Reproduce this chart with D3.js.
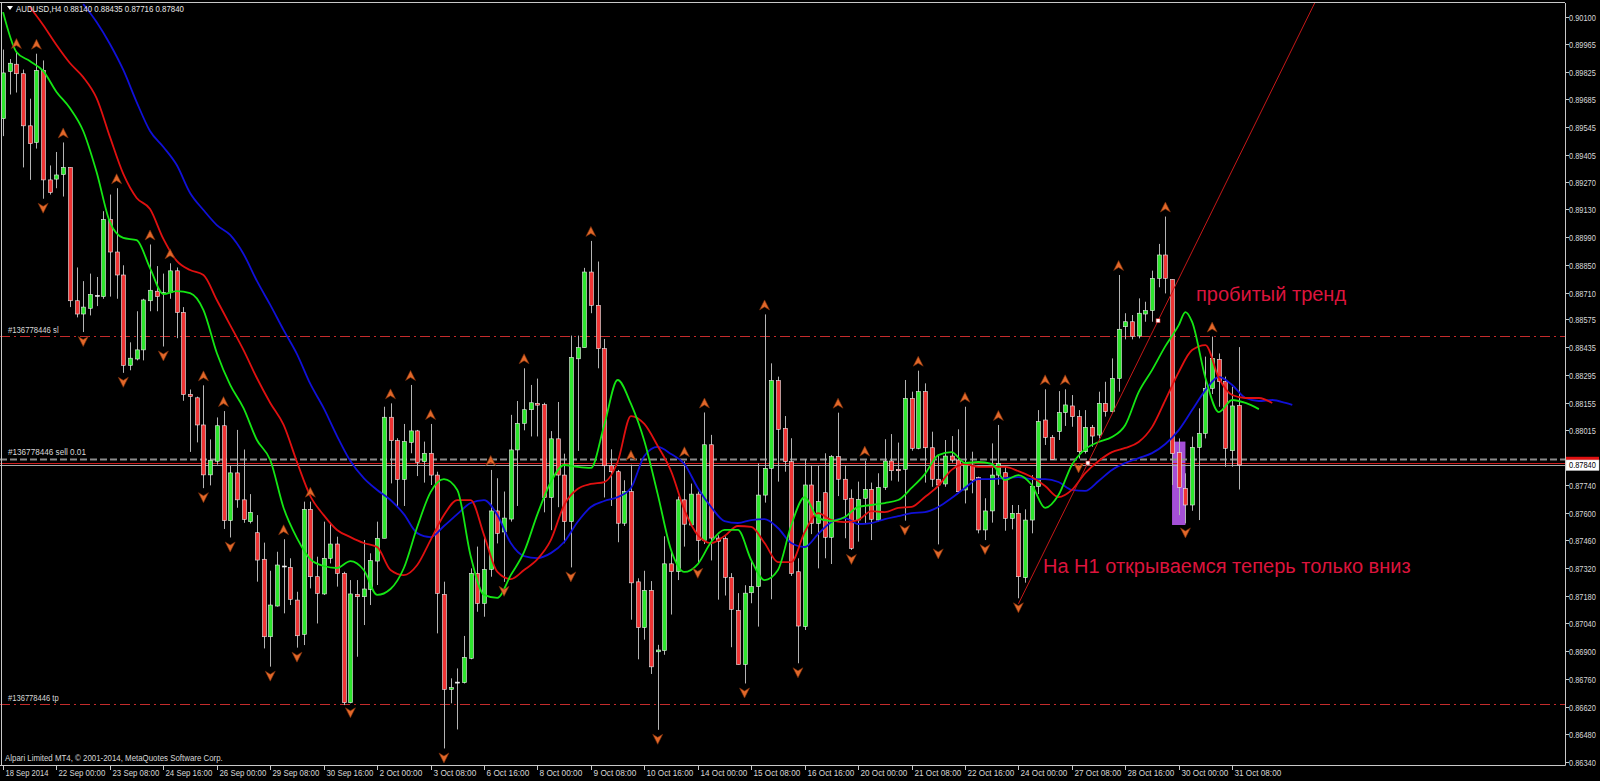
<!DOCTYPE html>
<meta charset="utf-8">
<style>
body { margin: 0; background: #000; }
svg { display: block; background: #000; }
.txt { font-family: "Liberation Sans", Arial, sans-serif; font-size: 9.5px; fill: #d8d8d8; }
.note { font-family: "Liberation Sans", Arial, sans-serif; font-size: 20px; fill: #dc143c; }
</style>
<svg width="1600" height="781"></svg>
<script src="https://d3js.org/d3.v7.min.js"></script>
<script>

// AUDUSD H4 candles, 18 Sep 16:00 .. 31 Oct 2014
var openP = [.89588,.89826,.89863,.89815,.89552,.89468,.89832,.89279,.89283,.89306,
  .89342,.88669,.88602,.88631,.88696,.88690,.89079,.88915,.88799,.88343,
  .88375,.88421,.88669,.88717,.88705,.88711,.88820,.88610,.88196,.88179,
  .88042,.87790,.87859,.88038,.87559,.87800,.87664,.87554,.87498,.87364,
  .86973,.87128,.87330,.87323,.87158,.86985,.87616,.87276,.87189,.87369,
  .87441,.87293,.86640,.87187,.87175,.87212,.87355,.87470,.88081,.87963,
  .87767,.87954,.88012,.87857,.87899,.87789,.87187,.86707,.86744,.86741,
  .86864,.87293,.87141,.87313,.87608,.87502,.87567,.87916,.88050,.88119,
  .88151,.88145,.87676,.87972,.87789,.87554,.88376,.88432,.88814,.88646,
  .88427,.87836,.87806,.87546,.87706,.87250,.87019,.87207,.86897,.86903,
  .87341,.87302,.87664,.87537,.87693,.87459,.87942,.87471,.87468,.87271,
  .87106,.86833,.87195,.87226,.87688,.87823,.88266,.88025,.87857,.87301,
  .87024,.87739,.87545,.87700,.87475,.87882,.87768,.87672,.87562,.87672,
  .87717,.87562,.87727,.87860,.87818,.87818,.88176,.87924,.88210,.87927,
  .87768,.87744,.87885,.87865,.87714,.87840,.87776,.87512,.87608,.87789,
  .87801,.87570,.87596,.87271,.87562,.87731,.88067,.87979,.88008,.88104,
  .88138,.88084,.87907,.88030,.87991,.88151,.88109,.88277,.88538,.88563,
  .88491,.88602,.88619,.88782,.88900,.88777,.87902,.87722,.87638,.87929,
  .87999,.88227,.88373,.88261,.87912,.88140];
var highP = [.89937,.89889,.89920,.89836,.89689,.89916,.89882,.89352,.89420,.89468,
  .89342,.88837,.88768,.88806,.88789,.89121,.89205,.89237,.88848,.88459,
  .88616,.88679,.88953,.88844,.88806,.88858,.88837,.88637,.88221,.88185,
  .88242,.87969,.88080,.88112,.87838,.88017,.87918,.87693,.87587,.87448,
  .87306,.87402,.87465,.87369,.87200,.87655,.87655,.87377,.87554,.87549,
  .87478,.87301,.87259,.87259,.87461,.87394,.87554,.88134,.88151,.87975,
  .88047,.88244,.88017,.87958,.88047,.87806,.87251,.86763,.86813,.86977,
  .87318,.87428,.87470,.87815,.87773,.87706,.88093,.88163,.88328,.88244,
  .88276,.88154,.88011,.88158,.87897,.88493,.88493,.88835,.88971,.88867,
  .88476,.87919,.87815,.87763,.87841,.87268,.87306,.87254,.86932,.87480,
  .87410,.87681,.87859,.87746,.87706,.88105,.87992,.87485,.87480,.87294,
  .87193,.87233,.87360,.87848,.88600,.88353,.88286,.88087,.87975,.87369,
  .87869,.87840,.87835,.87899,.87890,.88104,.87840,.87717,.87756,.87862,
  .87751,.87798,.87970,.87996,.87953,.88269,.88210,.88316,.88252,.88008,
  .87890,.87966,.87986,.88020,.88134,.87907,.87781,.87672,.87949,.88042,
  .87831,.87638,.87638,.87616,.87789,.88117,.88222,.87991,.88213,.88222,
  .88193,.88117,.88117,.88042,.88210,.88260,.88378,.88799,.88606,.88597,
  .88681,.88664,.88821,.88956,.89094,.88777,.87974,.87798,.87983,.88126,
  .88387,.88488,.88403,.88286,.88235,.88435];
var lowP = [.89500,.89710,.89720,.89342,.89279,.89437,.89184,.89205,.89237,.89195,
  .88637,.88585,.88511,.88595,.88642,.88679,.88690,.88679,.88305,.88318,
  .88368,.88368,.88616,.88616,.88438,.88679,.88480,.88164,.87906,.87954,
  .87723,.87737,.87842,.87517,.87474,.87624,.87548,.87545,.87251,.86914,
  .86822,.87125,.87091,.87133,.86918,.86931,.87217,.87040,.87184,.87343,
  .87226,.86628,.86637,.86872,.87032,.87133,.87234,.87470,.87747,.87629,
  .87633,.87899,.87784,.87751,.87739,.86990,.86409,.86637,.86505,.86737,
  .86859,.87099,.87074,.87276,.87444,.87250,.87554,.87633,.88015,.87984,
  .87984,.87601,.87511,.87627,.87445,.87323,.87911,.88432,.88606,.88328,
  .87676,.87633,.87450,.87532,.87059,.86859,.86958,.86785,.86503,.86882,
  .87085,.87259,.87428,.87532,.87341,.87441,.87358,.87160,.87181,.86920,
  .86833,.86737,.87142,.87024,.87650,.87162,.87756,.87806,.87280,.86839,
  .87007,.87491,.87318,.87369,.87340,.87683,.87470,.87411,.87453,.87545,
  .87461,.87554,.87714,.87761,.87756,.87559,.87912,.87919,.87751,.87730,
  .87439,.87730,.87852,.87697,.87646,.87697,.87495,.87461,.87549,.87740,
  .87508,.87515,.87167,.87246,.87495,.87693,.87941,.87868,.87966,.88037,
  .88033,.87873,.87898,.87932,.87974,.88084,.88104,.88210,.88474,.88474,
  .88479,.88563,.88563,.88737,.88706,.87739,.87587,.87545,.87609,.87562,
  .87974,.88198,.88134,.87831,.87831,.87716];
var closeP = [.89819,.89868,.89815,.89552,.89462,.89832,.89279,.89216,.89304,.89342,
  .88669,.88602,.88637,.88701,.88696,.89079,.88915,.88799,.88343,.88379,
  .88421,.88673,.88722,.88690,.88711,.88820,.88610,.88196,.88185,.88042,
  .87790,.87864,.88038,.87559,.87800,.87664,.87565,.87601,.87360,.86973,
  .87133,.87335,.87330,.87162,.86978,.87616,.87276,.87192,.87369,.87441,
  .87293,.86640,.87189,.87175,.87214,.87357,.87470,.88081,.87963,.87767,
  .87958,.88012,.87853,.87899,.87789,.87192,.86707,.86716,.86744,.86869,
  .87293,.87141,.87313,.87608,.87495,.87572,.87916,.88050,.88119,.88154,
  .88142,.87676,.87972,.87789,.87554,.88383,.88432,.88814,.88646,.88427,
  .87836,.87806,.87546,.87706,.87245,.87019,.87207,.86821,.86906,.87341,
  .87302,.87664,.87541,.87693,.87459,.87942,.87471,.87455,.87273,.87111,
  .86833,.87193,.87226,.87688,.87823,.88266,.88020,.87857,.87293,.87027,
  .87739,.87545,.87655,.87475,.87882,.87768,.87666,.87419,.87666,.87717,
  .87566,.87727,.87860,.87811,.87811,.88176,.87924,.88210,.87927,.87768,
  .87739,.87885,.87865,.87705,.87840,.87764,.87512,.87608,.87789,.87848,
  .87570,.87596,.87276,.87562,.87731,.88059,.87979,.87868,.88104,.88143,
  .88084,.87907,.88030,.87986,.88151,.88109,.88277,.88525,.88563,.88488,
  .88606,.88619,.88782,.88900,.88782,.87898,.87727,.87638,.87929,.87999,
  .88227,.88378,.88261,.87924,.88138,.87840];

var timeLabels = ["18 Sep 2014","22 Sep 00:00","23 Sep 08:00","24 Sep 16:00","26 Sep 00:00",
  "29 Sep 08:00","30 Sep 16:00","2 Oct 00:00","3 Oct 08:00","6 Oct 16:00","8 Oct 00:00",
  "9 Oct 08:00","10 Oct 16:00","14 Oct 00:00","15 Oct 08:00","16 Oct 16:00","20 Oct 00:00",
  "21 Oct 08:00","22 Oct 16:00","24 Oct 00:00","27 Oct 08:00","28 Oct 16:00","30 Oct 00:00",
  "31 Oct 08:00"];
var priceLabels = ["0.90100","0.89965","0.89825","0.89685","0.89545","0.89405","0.89270",
  "0.89130","0.88990","0.88850","0.88710","0.88575","0.88435","0.88295","0.88155","0.88015",
  "0.87740","0.87600","0.87460","0.87320","0.87180","0.87040","0.86900","0.86760","0.86620",
  "0.86480","0.86340"];

// Alligator lines (bar slot, price)
var lipsBar = [0,2,4,6,8,10,12,14,16,18,20,22,24,26,28,30,32,34,36,38,40,42,44,46,48,50,
  52,54,56,58,60,62,64,66,68,70,72,74,76,78,80,82,84,86,88,90,92,94,96,98,100,102,104,106,
  108,110,112,114,116,118,120,122,124,126,128,130,132,134,136,138,140,142,144,146,148,150,
  152,154,156,158,160,162,164,166,168,170,172,174,176,177,178,180,182,184,186,188];
var lipsVal = [.90126,.89925,.89879,.89829,.89723,.89642,.89526,.89319,.89066,.88986,.88975,
  .88834,.88703,.88718,.88708,.88622,.88405,.88244,.88127,.87966,.87865,.87623,.87471,.87365,
  .87330,.87320,.87355,.87310,.87184,.87214,.87320,.87527,.87703,.87769,.87714,.87381,.87184,
  .87169,.87284,.87401,.87592,.87754,.87840,.87830,.87825,.88042,.88269,.88148,.87961,.87693,
  .87411,.87300,.87340,.87451,.87512,.87512,.87360,.87259,.87310,.87537,.87678,.87572,.87557,
  .87577,.87628,.87638,.87648,.87663,.87724,.87794,.87890,.87905,.87850,.87855,.87845,.87764,
  .87789,.87739,.87623,.87688,.87840,.87920,.87956,.87981,.88042,.88208,.88319,.88440,.88546,
  .88612,.88562,.88279,.88107,.88168,.88153,.88122];
var teethBar = [4,6,8,10,12,14,16,18,20,22,24,26,28,30,32,34,36,38,40,42,44,46,48,50,52,54,
  56,58,60,62,64,66,68,70,72,74,76,78,80,82,84,86,88,90,92,94,96,98,100,102,104,106,108,110,
  112,114,116,118,120,122,124,126,128,130,132,134,136,138,140,142,144,146,148,150,152,154,
  156,158,160,162,164,166,168,170,172,174,176,178,180,182,184,186,188,190];
var teethVal = [.90152,.90061,.89960,.89869,.89798,.89692,.89496,.89309,.89188,.89132,.88981,
  .88870,.88824,.88799,.88673,.88546,.88420,.88279,.88153,.88042,.87855,.87683,.87587,.87512,
  .87476,.87446,.87426,.87310,.87284,.87335,.87461,.87587,.87663,.87663,.87486,.87300,.87264,
  .87310,.87365,.87461,.87638,.87719,.87744,.87754,.87855,.88087,.88047,.87936,.87809,.87613,
  .87486,.87446,.87481,.87532,.87527,.87446,.87350,.87350,.87501,.87597,.87562,.87552,.87562,
  .87607,.87602,.87623,.87628,.87678,.87734,.87815,.87845,.87830,.87830,.87830,.87809,.87779,
  .87734,.87678,.87714,.87799,.87860,.87905,.87926,.87956,.88031,.88168,.88309,.88420,.88445,
  .88279,.88193,.88178,.88178,.88153];
var jawBar = [12,14,16,18,20,22,24,26,28,30,32,34,36,38,40,42,44,46,48,50,52,54,56,58,60,62,
  64,66,68,70,72,74,76,78,80,82,84,86,88,90,92,94,96,98,100,102,104,106,108,110,112,114,116,
  118,120,122,124,126,128,130,132,134,136,138,140,142,144,146,148,150,152,154,156,158,160,
  162,164,166,168,170,172,174,176,178,180,182,184,186,188,190,192,193];
var jawVal = [.90167,.90076,.89965,.89834,.89672,.89526,.89445,.89354,.89213,.89127,.89051,
  .89001,.88905,.88769,.88648,.88521,.88400,.88249,.88127,.87986,.87860,.87774,.87714,.87663,
  .87592,.87496,.87476,.87532,.87592,.87648,.87663,.87587,.87446,.87380,.87370,.87395,.87451,
  .87552,.87628,.87658,.87678,.87724,.87885,.87931,.87895,.87845,.87724,.87628,.87557,.87547,
  .87562,.87567,.87522,.87446,.87426,.87491,.87552,.87572,.87542,.87547,.87567,.87582,.87597,
  .87602,.87628,.87673,.87724,.87769,.87769,.87774,.87779,.87769,.87769,.87754,.87714,.87709,
  .87759,.87815,.87850,.87875,.87900,.87946,.88016,.88117,.88218,.88284,.88244,.88178,.88163,
  .88168,.88153,.88143];

var fractalUp = [2,5,9,17,22,25,30,33,42,46,58,61,64,73,78,88,94,102,105,114,125,129,137,
  144,149,156,159,167,174,181];
var fractalDown = [6,12,18,24,30,34,40,44,52,66,75,85,98,104,111,119,127,135,140,147,152,
  161,177];

var slPrice = 0.88490, tpPrice = 0.86635, orderPrice = 0.87868, askPrice = 0.87851, bidPrice = 0.87840;
var trendBars = [152, 173], trendPrices = [0.87139, 0.88575];
var trendMarks = [[162.4, 0.87850], [172.9, 0.88568]];
var boxBars = [175, 177], boxPrices = [0.87958, 0.87537];

var svg = d3.select("svg"),
    plotR = 1565, plotT = 3, plotB = 765;

var x = d3.scaleLinear().domain([0, 185]).range([3.06, 1238.86]);
var y = d3.scaleLinear().domain([0.86324, 0.90172]).range([765.3, 3]);

svg.append("defs").append("clipPath").attr("id", "plot")
  .append("rect").attr("x", 0).attr("y", plotT).attr("width", plotR).attr("height", plotB - plotT);

var g = svg.append("g").attr("clip-path", "url(#plot)");

// rectangle object (background)
g.append("rect")
    .attr("x", x(boxBars[0])).attr("width", x(boxBars[1]) - x(boxBars[0]))
    .attr("y", y(boxPrices[0])).attr("height", y(boxPrices[1]) - y(boxPrices[0]))
    .attr("fill", "#a44fd6");

// trade levels
function hline(p, color, dash, w) {
  g.append("line").attr("x1", 0).attr("x2", plotR)
    .attr("y1", Math.round(y(p)) + 0.5).attr("y2", Math.round(y(p)) + 0.5)
    .attr("stroke", color).attr("stroke-width", w || 1)
    .attr("stroke-dasharray", dash);
}
hline(slPrice, "#c42b2b", "10,4,2,4");
hline(tpPrice, "#c42b2b", "10,4,2,4");
hline(orderPrice, "#8c8c8c", "7,3", 2);
hline(askPrice, "#d02020", null);
hline(bidPrice, "#a8a8a8", null);

var bars = d3.range(openP.length).map(function(i) {
  return {i: i, o: openP[i], h: highP[i], l: lowP[i], c: closeP[i]};
});

// wicks
g.selectAll(".wick").data(bars).enter().append("line")
    .attr("x1", function(d) { return Math.round(x(d.i)) + 0.5; })
    .attr("x2", function(d) { return Math.round(x(d.i)) + 0.5; })
    .attr("y1", function(d) { return y(d.h); })
    .attr("y2", function(d) { return y(d.l); })
    .attr("stroke", "#b4b4b4").attr("stroke-width", 1);

// bodies
g.selectAll(".body").data(bars).enter().append("rect")
    .attr("x", function(d) { return Math.round(x(d.i)) - 1.5; })
    .attr("width", 4)
    .attr("y", function(d) { return y(Math.max(d.o, d.c)); })
    .attr("height", function(d) { return Math.max(1, Math.abs(y(d.o) - y(d.c))); })
    .attr("fill", function(d) { return d.c > d.o ? "#2ee62e" : d.c < d.o ? "#f03434" : "#ffffff"; })
    .attr("stroke", "#ececec").attr("stroke-width", 0.6);

// alligator
var line = d3.line()
    .x(function(d) { return x(d[0]); })
    .y(function(d) { return y(d[1]); })
    .curve(d3.curveMonotoneX);

[[jawBar, jawVal, "#1010d8"], [teethBar, teethVal, "#e01010"], [lipsBar, lipsVal, "#14e614"]]
  .forEach(function(s) {
    g.append("path")
      .datum(s[0].map(function(b, k) { return [b, s[1][k]]; }))
      .attr("d", line).attr("fill", "none")
      .attr("stroke", s[2]).attr("stroke-width", 1.8);
  });

// trend line
var slope = (trendPrices[1] - trendPrices[0]) / (trendBars[1] - trendBars[0]);
g.append("line")
    .attr("x1", x(trendBars[0])).attr("y1", y(trendPrices[0]))
    .attr("x2", x(trendBars[0] + 60)).attr("y2", y(trendPrices[0] + 60 * slope))
    .attr("stroke", "#c41818").attr("stroke-width", 1);

g.selectAll(".tm").data(trendMarks).enter().append("rect")
    .attr("x", function(d) { return x(d[0]) - 2; })
    .attr("y", function(d) { return y(d[1]) - 2; })
    .attr("width", 4).attr("height", 4)
    .attr("fill", "#ffffff").attr("stroke", "#c41818").attr("stroke-width", 0.6);

// fractals
var arrowUp = "M0,-5.5L5,4.5L0,1.5L-5,4.5Z",
    arrowDown = "M0,5.5L5,-4.5L0,-1.5L-5,-4.5Z";
g.selectAll(".fu").data(fractalUp).enter().append("path")
    .attr("d", arrowUp)
    .attr("transform", function(i) { return "translate(" + x(i) + "," + (y(highP[i]) - 9) + ")"; })
    .attr("fill", "#e2682a").attr("stroke", "#7a2e08").attr("stroke-width", 0.6);
g.selectAll(".fd").data(fractalDown).enter().append("path")
    .attr("d", arrowDown)
    .attr("transform", function(i) { return "translate(" + x(i) + "," + (y(lowP[i]) + 9) + ")"; })
    .attr("fill", "#e2682a").attr("stroke", "#7a2e08").attr("stroke-width", 0.6);

// small texts, squeezed horizontally to the narrow terminal font
function label(sel, px, py, s, cw, fill) {
  var t = sel.append("text").attr("class", "txt").text(s).style("fill", fill || null);
  var k = s.length * cw / t.node().getComputedTextLength();
  t.attr("transform", "translate(" + px + "," + py + ") scale(" + k + ",1)");
  return t;
}

label(svg, 8, y(slPrice) - 3, "#136778446 sl", 3.9);
label(svg, 8, y(orderPrice) - 4, "#136778446 sell 0.01", 3.9);
label(svg, 8, y(tpPrice) - 3, "#136778446 tp", 3.9);

// annotations
svg.append("text").attr("class", "note").attr("x", 1196).attr("y", 301).text("пробитый тренд");
svg.append("text").attr("class", "note").attr("x", 1043).attr("y", 573).text("На Н1 открываемся теперь только вниз");

// frame and axes
var ax = svg.append("g").attr("stroke", "#c8c8c8").attr("stroke-width", 1);
ax.append("line").attr("x1", 1.5).attr("x2", 1.5).attr("y1", plotT).attr("y2", plotB);
ax.append("line").attr("x1", 0).attr("x2", plotR).attr("y1", plotT - 0.5).attr("y2", plotT - 0.5);
ax.append("line").attr("x1", plotR + 0.5).attr("x2", plotR + 0.5).attr("y1", plotT).attr("y2", plotB + 0.5);
ax.append("line").attr("x1", 0).attr("x2", plotR + 0.5).attr("y1", plotB + 0.5).attr("y2", plotB + 0.5);

priceLabels.forEach(function(s) {
  var py = Math.round(y(+s)) + 0.5;
  ax.append("line").attr("x1", plotR).attr("x2", plotR + 4).attr("y1", py).attr("y2", py);
  label(svg, plotR + 4, py + 3.3, s, 3.85);
});

timeLabels.forEach(function(s, k) {
  var px = Math.round(x(k * 8)) + 0.5;
  ax.append("line").attr("x1", px).attr("x2", px).attr("y1", plotB).attr("y2", plotB + 5);
  label(svg, px + 2, 776, s, 3.9);
});

// ask / bid price tags
svg.append("rect").attr("x", plotR + 1).attr("y", y(askPrice) - 6).attr("width", 33).attr("height", 11)
    .attr("fill", "#e01010");
label(svg, plotR + 4, y(askPrice) + 3, "0.87851", 3.85, "#ffffff");
svg.append("rect").attr("x", plotR + 1).attr("y", y(bidPrice) - 5).attr("width", 33).attr("height", 10.5)
    .attr("fill", "#ffffff").attr("stroke", "#c8c8c8").attr("stroke-width", 0.5);
label(svg, plotR + 4, y(bidPrice) + 3.5, "0.87840", 3.85, "#000000");

// header and copyright
svg.append("path").attr("d", "M7,6L13,6L10,10Z").attr("fill", "#ffffff");
label(svg, 16, 11.5, "AUDUSD,H4  0.88140 0.88435 0.87716 0.87840", 4.0, "#e8e8e8");
label(svg, 5, 761, "Alpari Limited MT4, \u00a9 2001-2014, MetaQuotes Software Corp.", 3.76);

</script>
